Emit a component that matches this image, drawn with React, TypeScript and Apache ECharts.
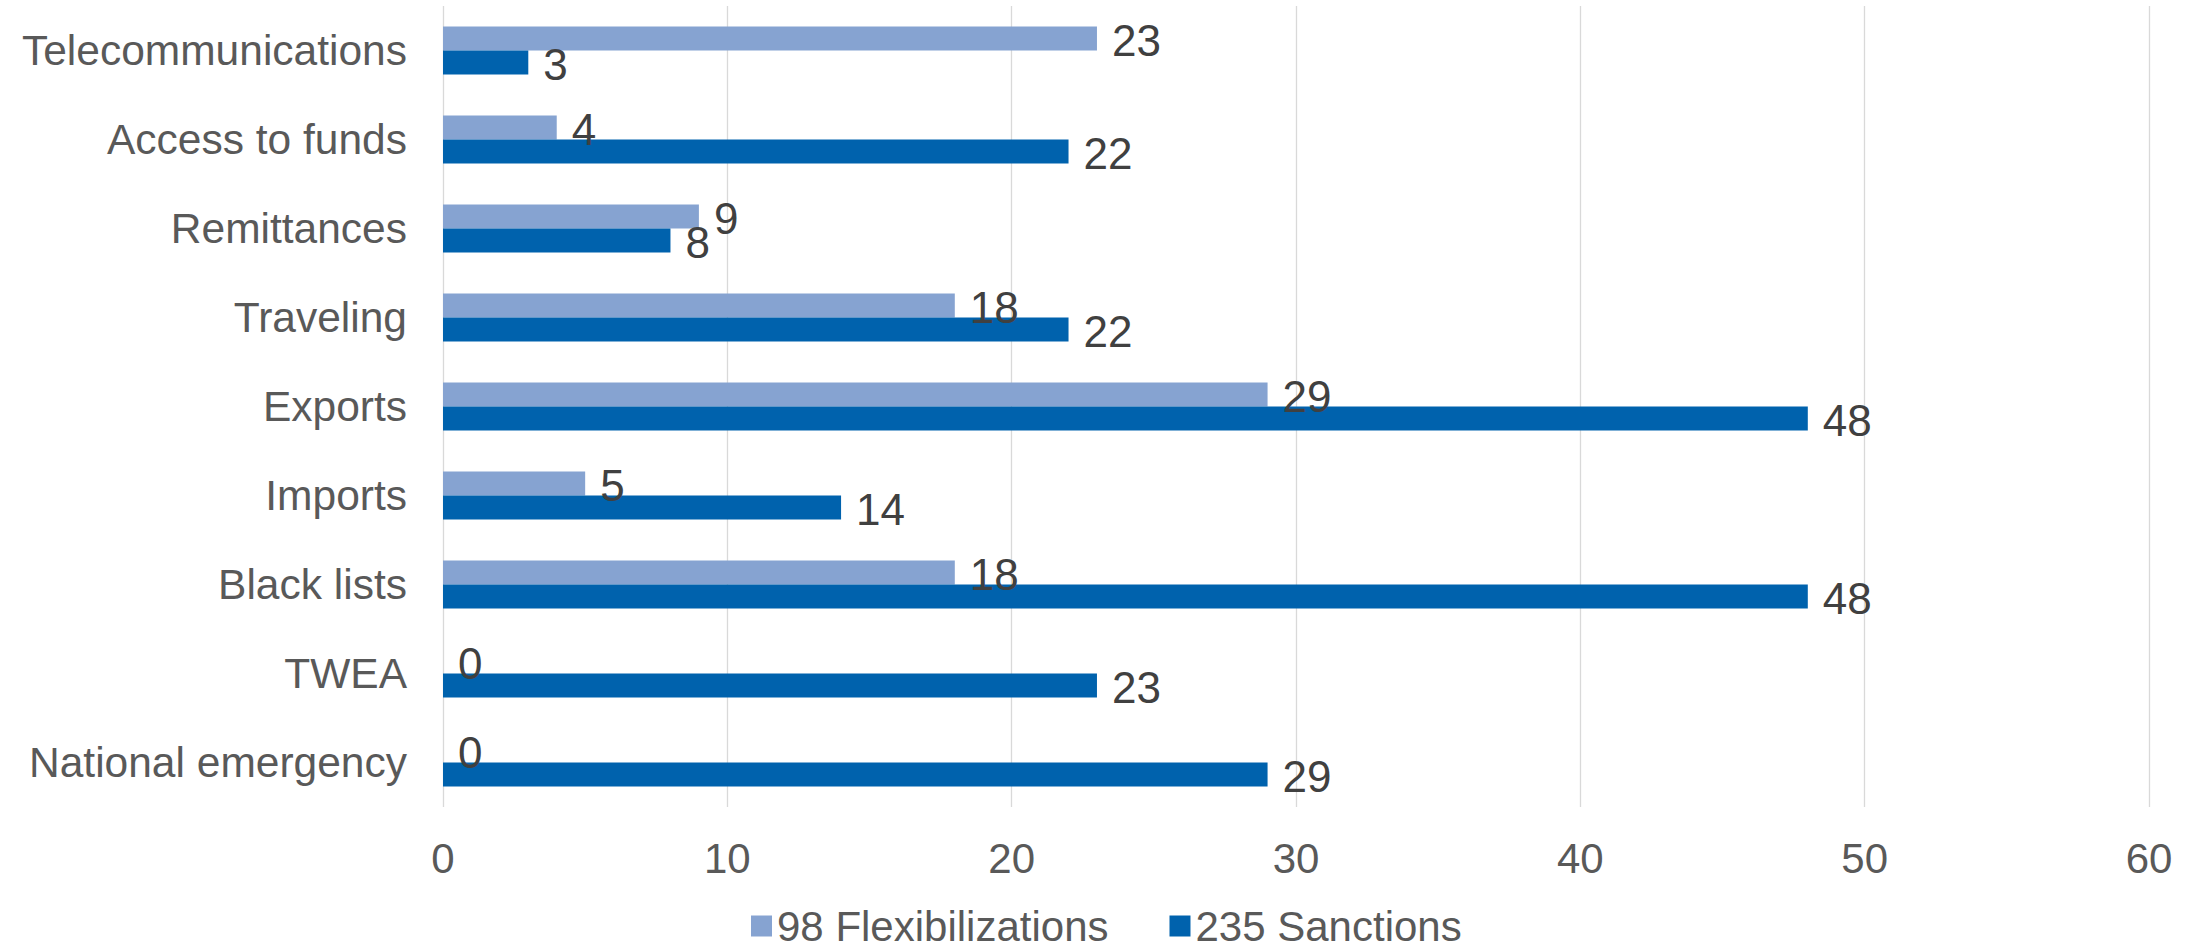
import React, { useEffect, useRef } from "react";
import * as echarts from "echarts";

const categories = [
  "Telecommunications",
  "Access to funds",
  "Remittances",
  "Traveling",
  "Exports",
  "Imports",
  "Black lists",
  "TWEA",
  "National emergency",
];
const flexibilizations = [23, 4, 9, 18, 29, 5, 18, 0, 0];
const sanctions = [3, 22, 8, 22, 48, 14, 48, 23, 29];
const seriesNames = ["98 Flexibilizations", "235 Sanctions"];
const xTicks = { min: 0, max: 60, interval: 10 };

const FONT = '"Liberation Sans", Arial, sans-serif';

export default function App() {
  const ref = useRef<HTMLDivElement>(null);
  useEffect(() => {
    if (!ref.current) return;
    const chart = echarts.init(ref.current, null, { renderer: "svg" });
    const label = {
      show: true,
      position: "right",
      distance: 15,
      offset: [0, 2],
      color: "#404040",
      fontSize: 44,
      fontFamily: FONT,
    };
    chart.setOption({
      animation: false,
      backgroundColor: "#ffffff",
      textStyle: { fontFamily: FONT },
      grid: { left: 443, right: 54, top: 6, bottom: 143, containLabel: false },
      legend: {
        data: seriesNames,
        left: 751,
        top: 905,
        padding: 0,
        icon: "rect",
        itemWidth: 21,
        itemHeight: 21,
        itemGap: 61,
        textStyle: {
          fontSize: 42,
          color: "#595959",
          fontFamily: FONT,
        },
      },
      xAxis: {
        type: "value",
        min: xTicks.min,
        max: xTicks.max,
        interval: xTicks.interval,
        axisLine: { show: false },
        axisTick: { show: false },
        splitLine: { show: true, lineStyle: { color: "#d9d9d9", width: 1.3 } },
        axisLabel: { fontSize: 42, color: "#595959", margin: 30, fontFamily: FONT },
      },
      yAxis: {
        type: "category",
        inverse: true,
        data: categories,
        axisLine: { show: false },
        axisTick: { show: false },
        axisLabel: { fontSize: 42.5, color: "#595959", margin: 36, fontFamily: FONT },
      },
      series: [
        {
          name: seriesNames[0],
          type: "bar",
          data: flexibilizations,
          barWidth: 24,
          barGap: "0%",
          itemStyle: { color: "#86a3d1" },
          label,
        },
        {
          name: seriesNames[1],
          type: "bar",
          data: sanctions,
          barWidth: 24,
          barGap: "0%",
          itemStyle: { color: "#0062ad" },
          label,
        },
      ],
    });
    return () => chart.dispose();
  }, []);
  return (
    <div
      ref={ref}
      style={{ position: "fixed", left: 0, top: 0, width: 2203, height: 950, background: "#fff" }}
    />
  );
}
